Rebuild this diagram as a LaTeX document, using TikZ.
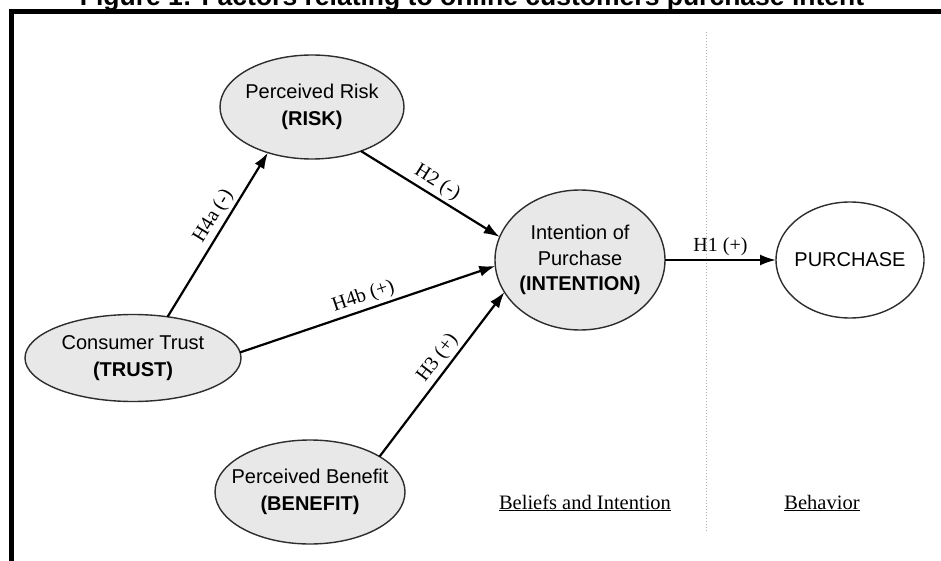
\documentclass[tikz,border=0pt]{standalone}
\usepackage{fontspec}
\setmainfont{Liberation Serif}
\newfontfamily\arialfont{Liberation Sans}
\usetikzlibrary{shapes.geometric,arrows.meta}
\definecolor{ellfill}{RGB}{232,232,232}
\definecolor{ellline}{RGB}{45,45,45}
\tikzset{
  ell/.style={ellipse, draw=ellline, line width=1.4pt, fill=ellfill, inner sep=0pt, outer sep=0pt},
  ellw/.style={ell, fill=white},
  lbl/.style={font=\arialfont\fontsize{20}{27}\selectfont, align=center, inner sep=0pt},
  conn/.style={line width=2.2pt, -{Latex[length=16pt,width=11pt]}},
  hlab/.style={font=\fontsize{20}{24}\selectfont, sloped, above, inner sep=3pt},
  sect/.style={font=\fontsize{20.5}{24}\selectfont, anchor=base}
}
\begin{document}
\begin{tikzpicture}[x=1pt,y=-1pt]
\useasboundingbox (0,0) rectangle (941,561);
\clip (0,0) rectangle (941,561);
\fill[white] (0,0) rectangle (941,561);

% title (cut at top)
\node[anchor=base, inner sep=0pt, font=\arialfont\bfseries\fontsize{26.5}{30}\selectfont] (title) at (472,6) {Figure 1: Factors relating to online customers purchase intent};

% frame
\draw[line width=4.5pt, line join=miter] (11.5,570) -- (11.5,11.7) -- (950,11.7);

% divider
\draw[gray!60, line width=0.9pt, dash pattern=on 1pt off 2pt] (706,32) -- (706,532);

% ellipses
\node[ell, minimum width=184pt, minimum height=104pt] (risk) at (312,107) {};
\node[ell, minimum width=170pt, minimum height=140pt] (intention) at (580,260) {};
\node[ellw, minimum width=148pt, minimum height=116pt] (purchase) at (850,260) {};
\node[ell, minimum width=216pt, minimum height=87pt] (trust) at (133,358) {};
\node[ell, minimum width=190pt, minimum height=104pt] (benefit) at (310,492) {};

% texts
\node[lbl] (risktxt) at (risk) {Perceived Risk\\\textbf{(RISK)}};
\node[lbl, font=\arialfont\fontsize{20}{25.5}\selectfont] (inttxt) at (intention) {Intention of\\Purchase\\\textbf{(INTENTION)}};
\node[lbl] (purtxt) at (purchase) {PURCHASE};
\node[lbl] (trusttxt) at (trust) {Consumer Trust\\\textbf{(TRUST)}};
\node[lbl] (bentxt) at (benefit) {Perceived Benefit\\\textbf{(BENEFIT)}};

% connectors
\draw[conn] (trust.50) -- node[hlab, pos=0.57] {H4a (-)} (risk.226);
\draw[conn] (risk.-42) -- node[hlab, pos=0.5] {H2 (-)} (intention.164);
\draw[conn] (trust.3) -- node[hlab, pos=0.5] {H4b (+)} (intention.184.5);
\draw[conn] (benefit.27) -- node[hlab, pos=0.55] {H3 (+)} (intention.203.5);
\draw[conn] (intention.east) -- node[hlab, pos=0.5] {H1 (+)} (purchase.west);

% section labels
\node[sect] (beliefs) at (585,509) {\underline{Beliefs and Intention}};
\node[sect] (behavior) at (822,509) {\underline{Behavior}};
\end{tikzpicture}
\end{document}
